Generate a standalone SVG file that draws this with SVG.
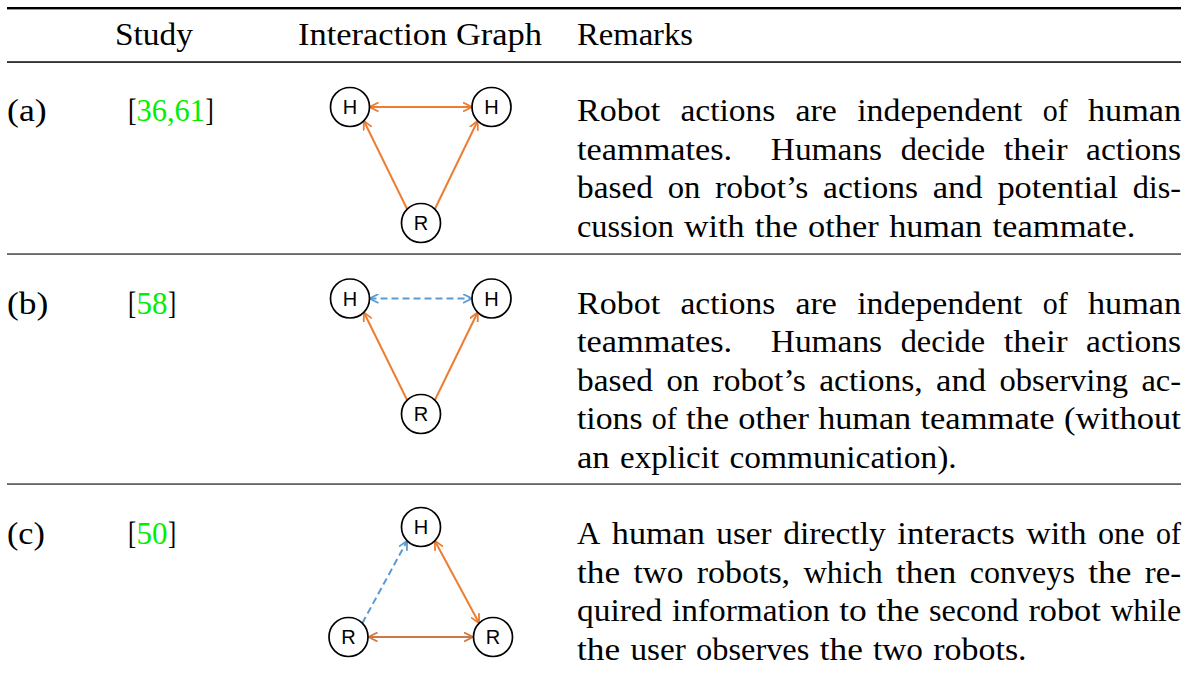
<svg xmlns="http://www.w3.org/2000/svg" width="1185" height="673" viewBox="0 0 1185 673">
  <style>
    .t { font-family: "Liberation Serif", "Times New Roman", serif; font-size: 31px; fill: #000; }
    .cite { fill: #00ee00; }
    .lbl { font-family: "Liberation Sans", Arial, sans-serif; font-size: 20px; fill: #000; text-anchor: middle; }
    .node circle { fill: #fff; stroke: #000; stroke-width: 1.7; }
    .or { stroke: #ED7D31; stroke-width: 2; fill: none; }
    .or2 { stroke: #CC7A45; stroke-width: 2; fill: none; }
    .bl { stroke: #5B9BD5; stroke-width: 2; fill: none; stroke-dasharray: 7 4; }
  </style>
  <defs>
    <marker id="arr-or" viewBox="0 0 10 10" refX="9" refY="5" markerWidth="10" markerHeight="10" markerUnits="userSpaceOnUse" orient="auto-start-reverse">
      <path d="M0,0.5 L9,5 L0,9.5" fill="none" stroke="#ED7D31" stroke-width="1.8"/>
    </marker>
    <marker id="arr-or2" viewBox="0 0 10 10" refX="9" refY="5" markerWidth="10" markerHeight="10" markerUnits="userSpaceOnUse" orient="auto-start-reverse">
      <path d="M0,0.5 L9,5 L0,9.5" fill="none" stroke="#CC7A45" stroke-width="1.8"/>
    </marker>
    <marker id="arr-bl" viewBox="0 0 10 10" refX="9" refY="5" markerWidth="10" markerHeight="10" markerUnits="userSpaceOnUse" orient="auto-start-reverse">
      <path d="M0,0.5 L9,5 L0,9.5" fill="none" stroke="#5B9BD5" stroke-width="1.8"/>
    </marker>
  </defs>

  <!-- table rules -->
  <g id="rules" fill="#000">
    <rect x="7" y="7" width="1174" height="2.4"/>
    <rect x="7" y="61.3" width="1174" height="1.5"/>
    <rect x="7" y="253.5" width="1174" height="1.1"/>
    <rect x="7" y="483.5" width="1174" height="1.1"/>
  </g>

  <!-- header -->
  <g id="header" class="t">
    <text x="115" y="45" textLength="78" lengthAdjust="spacingAndGlyphs">Study</text>
    <text x="298" y="45" textLength="244" lengthAdjust="spacingAndGlyphs">Interaction Graph</text>
    <text x="577" y="45" textLength="116" lengthAdjust="spacingAndGlyphs">Remarks</text>
  </g>

  <!-- row labels and citations -->
  <g id="studies" class="t">
    <text x="7" y="121" textLength="39.6" lengthAdjust="spacingAndGlyphs">(a)</text>
    <text x="128" y="121" textLength="8.6" lengthAdjust="spacingAndGlyphs">[</text>
    <text class="cite" x="136.6" y="121" textLength="68.4" lengthAdjust="spacingAndGlyphs">36,61</text>
    <text x="205.5" y="121" textLength="8.2" lengthAdjust="spacingAndGlyphs">]</text>
    <text x="7" y="313.5" textLength="41.3" lengthAdjust="spacingAndGlyphs">(b)</text>
    <text x="128" y="313.5" textLength="8.2" lengthAdjust="spacingAndGlyphs">[</text>
    <text class="cite" x="136.6" y="313.5">58</text>
    <text x="168" y="313.5" textLength="8.2" lengthAdjust="spacingAndGlyphs">]</text>
    <text x="7" y="544" textLength="37.9" lengthAdjust="spacingAndGlyphs">(c)</text>
    <text x="128" y="544" textLength="8.2" lengthAdjust="spacingAndGlyphs">[</text>
    <text class="cite" x="136.6" y="544">50</text>
    <text x="168" y="544" textLength="8.2" lengthAdjust="spacingAndGlyphs">]</text>
  </g>

  <!-- remarks, row (a) -->
  <g id="remarks-a" class="t">
    <text y="121"><tspan x="577" textLength="83.1" lengthAdjust="spacingAndGlyphs">Robot</tspan><tspan x="680.4" textLength="94.9" lengthAdjust="spacingAndGlyphs">actions</tspan><tspan x="795.5" textLength="41.4" lengthAdjust="spacingAndGlyphs">are</tspan><tspan x="857.2" textLength="165.3" lengthAdjust="spacingAndGlyphs">independent</tspan><tspan x="1042.8" textLength="25" lengthAdjust="spacingAndGlyphs">of</tspan><tspan x="1088" textLength="93" lengthAdjust="spacingAndGlyphs">human</tspan></text>
    <text y="159.5"><tspan x="577" textLength="155.2" lengthAdjust="spacingAndGlyphs">teammates.</tspan><tspan x="770.8" textLength="111.3" lengthAdjust="spacingAndGlyphs">Humans</tspan><tspan x="900.7" textLength="84.4" lengthAdjust="spacingAndGlyphs">decide</tspan><tspan x="1003.7" textLength="63.8" lengthAdjust="spacingAndGlyphs">their</tspan><tspan x="1086.1" textLength="94.9" lengthAdjust="spacingAndGlyphs">actions</tspan></text>
    <text y="198"><tspan x="577" textLength="76" lengthAdjust="spacingAndGlyphs">based</tspan><tspan x="667.7" textLength="32.7" lengthAdjust="spacingAndGlyphs">on</tspan><tspan x="715.1" textLength="93.3" lengthAdjust="spacingAndGlyphs">robot’s</tspan><tspan x="823.1" textLength="94.9" lengthAdjust="spacingAndGlyphs">actions</tspan><tspan x="932.7" textLength="50" lengthAdjust="spacingAndGlyphs">and</tspan><tspan x="997.4" textLength="120.6" lengthAdjust="spacingAndGlyphs">potential</tspan><tspan x="1132.7" textLength="48.4" lengthAdjust="spacingAndGlyphs">dis-</tspan></text>
    <text y="236.5"><tspan x="577" textLength="96.8" lengthAdjust="spacingAndGlyphs">cussion</tspan><tspan x="684.1" textLength="60.3" lengthAdjust="spacingAndGlyphs">with</tspan><tspan x="754.7" textLength="43.1" lengthAdjust="spacingAndGlyphs">the</tspan><tspan x="808.1" textLength="70.7" lengthAdjust="spacingAndGlyphs">other</tspan><tspan x="889.2" textLength="93" lengthAdjust="spacingAndGlyphs">human</tspan><tspan x="992.5" textLength="142.9" lengthAdjust="spacingAndGlyphs">teammate.</tspan></text>
  </g>

  <!-- remarks, row (b) -->
  <g id="remarks-b" class="t">
    <text y="313.5"><tspan x="577" textLength="83.1" lengthAdjust="spacingAndGlyphs">Robot</tspan><tspan x="680.4" textLength="94.9" lengthAdjust="spacingAndGlyphs">actions</tspan><tspan x="795.5" textLength="41.4" lengthAdjust="spacingAndGlyphs">are</tspan><tspan x="857.2" textLength="165.3" lengthAdjust="spacingAndGlyphs">independent</tspan><tspan x="1042.8" textLength="25" lengthAdjust="spacingAndGlyphs">of</tspan><tspan x="1088" textLength="93" lengthAdjust="spacingAndGlyphs">human</tspan></text>
    <text y="352"><tspan x="577" textLength="155.2" lengthAdjust="spacingAndGlyphs">teammates.</tspan><tspan x="770.8" textLength="111.3" lengthAdjust="spacingAndGlyphs">Humans</tspan><tspan x="900.7" textLength="84.4" lengthAdjust="spacingAndGlyphs">decide</tspan><tspan x="1003.7" textLength="63.8" lengthAdjust="spacingAndGlyphs">their</tspan><tspan x="1086.1" textLength="94.9" lengthAdjust="spacingAndGlyphs">actions</tspan></text>
    <text y="390.5"><tspan x="577" textLength="76" lengthAdjust="spacingAndGlyphs">based</tspan><tspan x="666.4" textLength="32.7" lengthAdjust="spacingAndGlyphs">on</tspan><tspan x="712.5" textLength="93.3" lengthAdjust="spacingAndGlyphs">robot’s</tspan><tspan x="819.2" textLength="103.5" lengthAdjust="spacingAndGlyphs">actions,</tspan><tspan x="936.1" textLength="50" lengthAdjust="spacingAndGlyphs">and</tspan><tspan x="999.4" textLength="128.6" lengthAdjust="spacingAndGlyphs">observing</tspan><tspan x="1141.4" textLength="39.6" lengthAdjust="spacingAndGlyphs">ac-</tspan></text>
    <text y="429"><tspan x="577" textLength="65.6" lengthAdjust="spacingAndGlyphs">tions</tspan><tspan x="651.8" textLength="25" lengthAdjust="spacingAndGlyphs">of</tspan><tspan x="686" textLength="43.1" lengthAdjust="spacingAndGlyphs">the</tspan><tspan x="738.3" textLength="70.7" lengthAdjust="spacingAndGlyphs">other</tspan><tspan x="818.2" textLength="93" lengthAdjust="spacingAndGlyphs">human</tspan><tspan x="920.4" textLength="134.3" lengthAdjust="spacingAndGlyphs">teammate</tspan><tspan x="1063.9" textLength="117.1" lengthAdjust="spacingAndGlyphs">(without</tspan></text>
    <text y="467.5"><tspan x="577" textLength="32.7" lengthAdjust="spacingAndGlyphs">an</tspan><tspan x="620.1" textLength="99" lengthAdjust="spacingAndGlyphs">explicit</tspan><tspan x="729.4" textLength="227.3" lengthAdjust="spacingAndGlyphs">communication).</tspan></text>
  </g>

  <!-- remarks, row (c) -->
  <g id="remarks-c" class="t">
    <text y="544"><tspan x="577" textLength="23.3" lengthAdjust="spacingAndGlyphs">A</tspan><tspan x="611.8" textLength="93" lengthAdjust="spacingAndGlyphs">human</tspan><tspan x="716.3" textLength="55.4" lengthAdjust="spacingAndGlyphs">user</tspan><tspan x="783.2" textLength="102.6" lengthAdjust="spacingAndGlyphs">directly</tspan><tspan x="897.3" textLength="117.4" lengthAdjust="spacingAndGlyphs">interacts</tspan><tspan x="1026.2" textLength="60.3" lengthAdjust="spacingAndGlyphs">with</tspan><tspan x="1098" textLength="46.5" lengthAdjust="spacingAndGlyphs">one</tspan><tspan x="1156" textLength="25" lengthAdjust="spacingAndGlyphs">of</tspan></text>
    <text y="582.5"><tspan x="577" textLength="43.1" lengthAdjust="spacingAndGlyphs">the</tspan><tspan x="633.5" textLength="49.9" lengthAdjust="spacingAndGlyphs">two</tspan><tspan x="696.8" textLength="93.3" lengthAdjust="spacingAndGlyphs">robots,</tspan><tspan x="803.4" textLength="79.2" lengthAdjust="spacingAndGlyphs">which</tspan><tspan x="896" textLength="60.3" lengthAdjust="spacingAndGlyphs">then</tspan><tspan x="969.7" textLength="105.2" lengthAdjust="spacingAndGlyphs">conveys</tspan><tspan x="1088.3" textLength="43.1" lengthAdjust="spacingAndGlyphs">the</tspan><tspan x="1144.8" textLength="36.3" lengthAdjust="spacingAndGlyphs">re-</tspan></text>
    <text y="621"><tspan x="577" textLength="85.3" lengthAdjust="spacingAndGlyphs">quired</tspan><tspan x="671.9" textLength="157.7" lengthAdjust="spacingAndGlyphs">information</tspan><tspan x="839.2" textLength="27.6" lengthAdjust="spacingAndGlyphs">to</tspan><tspan x="876.4" textLength="43.1" lengthAdjust="spacingAndGlyphs">the</tspan><tspan x="929" textLength="89.7" lengthAdjust="spacingAndGlyphs">second</tspan><tspan x="1028.4" textLength="72.4" lengthAdjust="spacingAndGlyphs">robot</tspan><tspan x="1110.4" textLength="70.6" lengthAdjust="spacingAndGlyphs">while</tspan></text>
    <text y="659.5"><tspan x="577" textLength="43.1" lengthAdjust="spacingAndGlyphs">the</tspan><tspan x="630.4" textLength="55.4" lengthAdjust="spacingAndGlyphs">user</tspan><tspan x="696.1" textLength="113.2" lengthAdjust="spacingAndGlyphs">observes</tspan><tspan x="819.7" textLength="43.1" lengthAdjust="spacingAndGlyphs">the</tspan><tspan x="873" textLength="49.9" lengthAdjust="spacingAndGlyphs">two</tspan><tspan x="933.3" textLength="93.3" lengthAdjust="spacingAndGlyphs">robots.</tspan></text>
  </g>

  <!-- interaction graph connectors -->
  <g id="connectors">
    <!-- (a) -->
    <line class="or" x1="369.5" y1="107" x2="472" y2="107" marker-start="url(#arr-or)" marker-end="url(#arr-or)"/>
    <line class="or" x1="407.2" y1="209.2" x2="363.8" y2="120.8" marker-end="url(#arr-or)"/>
    <line class="or" x1="434.8" y1="209.2" x2="477.7" y2="120.8" marker-end="url(#arr-or)"/>
    <!-- (b) -->
    <line class="bl" x1="369.5" y1="298.5" x2="472" y2="298.5" marker-start="url(#arr-bl)" marker-end="url(#arr-bl)"/>
    <line class="or" x1="407.2" y1="400.2" x2="363.8" y2="312.3" marker-end="url(#arr-or)"/>
    <line class="or" x1="434.8" y1="400.2" x2="477.7" y2="312.3" marker-end="url(#arr-or)"/>
    <!-- (c) -->
    <line class="bl" x1="362.3" y1="623.2" x2="407.2" y2="540.8" marker-end="url(#arr-bl)"/>
    <line class="or" x1="434.8" y1="540.8" x2="479.2" y2="623.2" marker-start="url(#arr-or)" marker-end="url(#arr-or)"/>
    <line class="or2" x1="368.5" y1="637" x2="473" y2="637" marker-start="url(#arr-or2)" marker-end="url(#arr-or2)"/>
  </g>

  <!-- interaction graph nodes -->
  <g id="a-h1" class="node"><circle cx="350" cy="107" r="19.5"/><text class="lbl" x="350" y="114.2">H</text></g>
  <g id="a-h2" class="node"><circle cx="491.5" cy="107" r="19.5"/><text class="lbl" x="491.5" y="114.2">H</text></g>
  <g id="a-r" class="node"><circle cx="421" cy="223" r="19.5"/><text class="lbl" x="421" y="230.2">R</text></g>

  <g id="b-h1" class="node"><circle cx="350" cy="298.5" r="19.5"/><text class="lbl" x="350" y="305.7">H</text></g>
  <g id="b-h2" class="node"><circle cx="491.5" cy="298.5" r="19.5"/><text class="lbl" x="491.5" y="305.7">H</text></g>
  <g id="b-r" class="node"><circle cx="421" cy="414" r="19.5"/><text class="lbl" x="421" y="421.2">R</text></g>

  <g id="c-h" class="node"><circle cx="421" cy="527" r="19.5"/><text class="lbl" x="421" y="534.2">H</text></g>
  <g id="c-r1" class="node"><circle cx="348.5" cy="637" r="19.5"/><text class="lbl" x="348.5" y="644.2">R</text></g>
  <g id="c-r2" class="node"><circle cx="493" cy="637" r="19.5"/><text class="lbl" x="493" y="644.2">R</text></g>
</svg>
